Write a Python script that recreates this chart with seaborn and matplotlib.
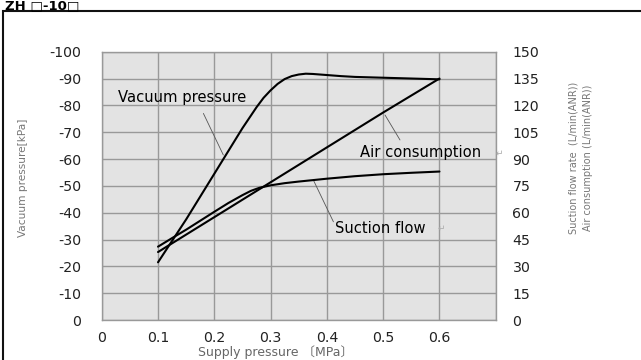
import matplotlib
matplotlib.use("Agg")
import matplotlib.pyplot as plt
import matplotlib.patches as mpatches
import numpy as np
import pandas as pd
import seaborn as sns

# Vacuum pressure curve (kPa, negative = vacuum) against supply pressure (MPa)
vac_p = [0.10, 0.125, 0.15, 0.175, 0.20, 0.225, 0.25, 0.275, 0.2875, 0.30,
         0.3125, 0.325, 0.3375, 0.35, 0.3625, 0.375, 0.40, 0.425, 0.45, 0.50,
         0.55, 0.60]
vac_kpa = [-21.5, -29.5, -37.5, -46.0, -54.5, -63.0, -71.5, -79.3, -82.8, -85.6,
           -88.0, -89.8, -90.9, -91.5, -91.8, -91.7, -91.3, -90.9, -90.6, -90.3,
           -90.0, -89.7]

# Suction flow rate (L/min(ANR))
suc_p = [0.10, 0.125, 0.15, 0.175, 0.20, 0.225, 0.25, 0.265, 0.28, 0.30, 0.325,
         0.35, 0.375, 0.40, 0.45, 0.50, 0.55, 0.60]
suc_flow = [41.0, 45.8, 50.5, 55.5, 60.5, 65.4, 69.8, 72.2, 73.9, 75.3, 76.5,
            77.4, 78.2, 79.0, 80.4, 81.5, 82.3, 83.0]

# Air consumption (L/min(ANR))
air_p = [0.10, 0.20, 0.30, 0.40, 0.50, 0.60]
air_flow = [38.0, 57.5, 77.0, 96.5, 116.0, 135.0]

x_labels = ["0", "0.1", "0.2", "0.3", "0.4", "0.5", "0.6"]
left_ticks = [0, -10, -20, -30, -40, -50, -60, -70, -80, -90, -100]
left_labels = ["0", "-10", "-20", "-30", "-40", "-50", "-60", "-70", "-80", "-90", "-100"]
right_ticks = [0, 15, 30, 45, 60, 75, 90, 105, 120, 135, 150]
right_labels = [str(v) for v in right_ticks]

sns.set_theme(style="whitegrid")
plt.rcParams["font.family"] = ["DejaVu Sans", "Noto Sans CJK JP"]

GRID = "#999999"
fig = plt.figure(figsize=(6.41, 3.6), dpi=100)
fig.patch.set_facecolor("white")
ax = fig.add_axes([0.1587, 0.1111, 0.6147, 0.7453])
ax.set_facecolor("#e3e3e3")

vac_df = pd.DataFrame({"p": vac_p, "v": vac_kpa})
sns.lineplot(data=vac_df, x="p", y="v", ax=ax, color="black", lw=1.5, sort=False)

ax.set_xlim(0, 0.7)
ax.set_ylim(0, -100)
ax.set_xticks(np.arange(0, 0.71, 0.1))
ax.set_xticklabels(x_labels + [""])
ax.set_yticks(left_ticks)
ax.set_yticklabels(left_labels)
ax.grid(True, color=GRID, lw=1.0)
for s in ax.spines.values():
    s.set_color(GRID)
    s.set_linewidth(1.0)
ax.tick_params(axis="both", length=0, labelsize=10.2, colors="#222222")
ax.tick_params(axis="y", pad=15)
ax.tick_params(axis="x", pad=8)

ax2 = ax.twinx()
suc_df = pd.DataFrame({"p": suc_p, "f": suc_flow})
air_df = pd.DataFrame({"p": air_p, "f": air_flow})
sns.lineplot(data=suc_df, x="p", y="f", ax=ax2, color="black", lw=1.5, sort=False)
sns.lineplot(data=air_df, x="p", y="f", ax=ax2, color="black", lw=1.5, sort=False)
ax2.set_ylim(0, 150)
ax2.set_yticks(right_ticks)
ax2.set_yticklabels(right_labels)
ax2.grid(False)
for s in ax2.spines.values():
    s.set_visible(False)
ax2.tick_params(axis="y", length=0, labelsize=10.2, colors="#222222", pad=12)
ax2.set_ylabel("")
ax.set_ylabel("")
ax.set_xlabel("")
ax2.set_xlabel("")

# Axis titles
fig.text(23 / 641, 1 - 178 / 360, "Vacuum pressure[kPa]", rotation=90,
         ha="center", va="center", fontsize=7.6, color="#777777")
fig.text(573 / 641, 1 - 158 / 360, "Suction flow rate  (L/min(ANR))", rotation=90,
         ha="center", va="center", fontsize=7.0, color="#777777")
fig.text(588 / 641, 1 - 158 / 360, "Air consumption (L/min(ANR))", rotation=90,
         ha="center", va="center", fontsize=7.0, color="#777777")
fig.text(276 / 641, 1 - 352 / 360, "Supply pressure 〔MPa〕", ha="center",
         va="center", fontsize=9.0, color="#666666")

# Curve names with leader lines
tkw = dict(transform=ax.transAxes, fontsize=10.6, color="black", va="center", ha="left")
ax.text(0.042, 0.830, "Vacuum pressure", **tkw)
ax.text(0.655, 0.6235, "Air consumption", **tkw)
ax.text(0.592, 0.342, "Suction flow", **tkw)
mkw = dict(transform=ax.transAxes, fontsize=6.5, color="#aaaaaa", va="center", ha="center",
           clip_on=False)
ax.text(1.009, 0.6235, "↵", **mkw)
ax.text(0.863, 0.342, "↵", **mkw)
lkw = dict(transform=ax.transAxes, color="#555555", lw=0.6)
ax.plot([0.258, 0.3086], [0.770, 0.615], **lkw)
ax.plot([0.757, 0.719], [0.671, 0.764], **lkw)
ax.plot([0.588, 0.537], [0.366, 0.522], **lkw)

# Model heading and panel frame
fig.text(5 / 641, 1 - 9.5 / 360, "ZH □-10□", fontsize=9.5, fontweight="bold",
         color="black", ha="left", va="baseline")
frame = mpatches.Rectangle((3 / 641, -0.05), 1.1, 1 - 11 / 360 + 0.05,
                           transform=fig.transFigure, fill=False,
                           edgecolor="#111111", lw=1.5, clip_on=False)
fig.patches.append(frame)

fig.savefig("out.png", dpi=100)
